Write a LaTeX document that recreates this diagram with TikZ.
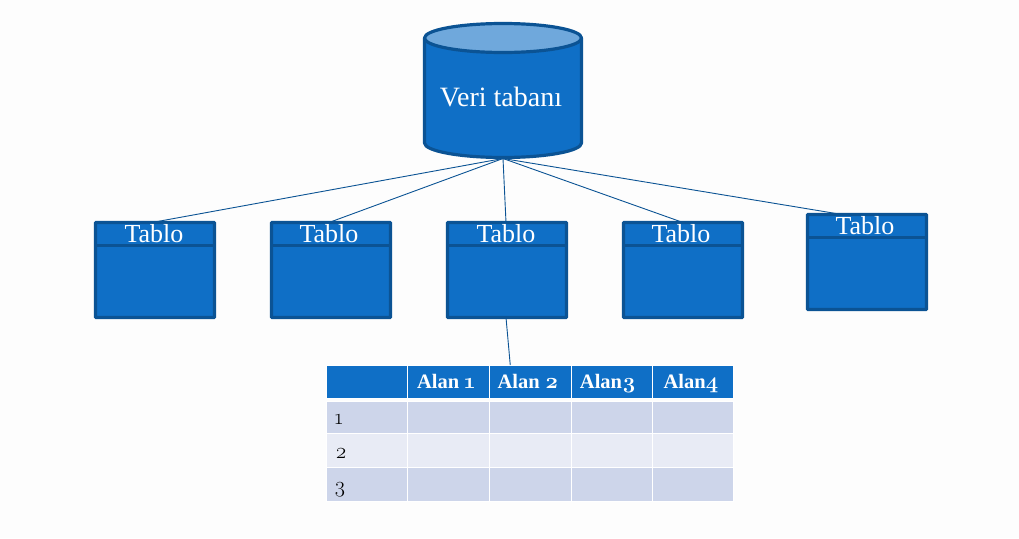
\documentclass[tikz,border=0pt]{standalone}
\usepackage{fontspec}
\setmainfont{Liberation Serif}
\newfontfamily\lmold[Numbers=OldStyle]{Latin Modern Roman}
\usetikzlibrary{calc}
\definecolor{blu}{HTML}{0F6FC6}
\definecolor{edge}{HTML}{0B5394}
\definecolor{topc}{HTML}{6FA8DC}
\definecolor{band}{HTML}{CDD5EA}
\definecolor{bandl}{HTML}{E8EBF5}
\definecolor{pagebg}{HTML}{FDFDFD}
\tikzset{
  tablebox/.style={draw=edge,line width=3.2pt,fill=blu,rounded corners=0.6pt,minimum width=119pt,minimum height=95pt,inner sep=0pt,outer sep=0pt,anchor=north west},
  cylline/.style={draw=edge,line width=3.2pt,line join=round},
  boxtitle/.style={text=white,font=\fontsize{26}{26}\selectfont,inner sep=0pt,anchor=base},
  link/.style={draw=edge,line width=0.9pt},
  cell/.style={draw=white,line width=1pt,inner sep=0pt,outer sep=0pt,anchor=north west},
  headcell/.style={cell,fill=blu,text=white},
  headtext/.style={text=white,font=\fontsize{20.5}{20.5}\bfseries\selectfont,inner sep=0pt,anchor=base},
  rowtext/.style={text=black,font=\fontsize{22}{22}\lmold\selectfont,inner sep=0pt,anchor=base}
}
\newcommand{\oldn}[1]{{\fontsize{22}{22}\lmold\bfseries #1}}
\begin{document}
\begin{tikzpicture}[x=1pt,y=-1pt]
\useasboundingbox (0,0) rectangle (1019,538);
\fill[pagebg] (0,0) rectangle (1019,538);
% cylinder
\node[minimum width=160pt,minimum height=136pt,inner sep=0pt,outer sep=0pt] (db) at (503,90.5) {};
\path[cylline,fill=blu] (424.5,38) -- (424.5,143)
  .. controls (424.5,151) and (459.64,157.5) .. (503,157.5)
  .. controls (546.36,157.5) and (581.5,151) .. (581.5,143)
  -- (581.5,38) -- cycle;
\path[cylline,fill=topc] (503,38) ellipse [x radius=78.5pt,y radius=14.5pt];
\node[text=white,font=\fontsize{28}{28}\selectfont,inner sep=0pt,anchor=base] (dbt) at (501,106) {Veri tabanı};
% boxes
\node[tablebox] (b1) at (95.5,222.5) {};
\node[tablebox] (b2) at (271.5,222.5) {};
\node[tablebox] (b3) at (447.5,222.5) {};
\node[tablebox] (b4) at (623.5,222.5) {};
\node[tablebox] (b5) at (807.5,214.5) {};
\foreach \n in {1,...,5}{
  \draw[draw=edge,line width=3.2pt] ($(b\n.north west)+(0,23)$) -- ($(b\n.north east)+(0,23)$);
}
\node[boxtitle] (t1) at (154,242) {Tablo};
\node[boxtitle] (t2) at (329,242) {Tablo};
\node[boxtitle] (t3) at (506,242) {Tablo};
\node[boxtitle] (t4) at (681,242) {Tablo};
\node[boxtitle] (t5) at (865,234) {Tablo};
% connectors
\draw[link] (db.south) -- ([xshift=-3pt]b1.north);
\draw[link] (db.south) -- ([xshift=-2pt]b2.north);
\draw[link] (db.south) -- ([xshift=-1pt]b3.north);
\draw[link] (db.south) -- ([xshift=0pt]b4.north);
\draw[link] (db.south) -- ([xshift=-25pt]b5.north);
% table
\def\xa{326}\def\xb{407.5}\def\xc{489.5}\def\xd{571}\def\xe{652.5}\def\xf{733.5}
\foreach \nm/\xl/\xr in {c0/\xa/\xb,c1/\xb/\xc,c2/\xc/\xd,c3/\xd/\xe,c4/\xe/\xf}{
  \node[headcell,minimum width={\xr-\xl},minimum height=33pt] (h\nm) at (\xl,365) {};
  \node[cell,fill=band,minimum width={\xr-\xl},minimum height=32.5pt] (ra\nm) at (\xl,401) {};
  \node[cell,fill=bandl,minimum width={\xr-\xl},minimum height=34pt] (rb\nm) at (\xl,433.5) {};
  \node[cell,fill=band,minimum width={\xr-\xl},minimum height=34pt] (rc\nm) at (\xl,467.5) {};
}
\node[headtext] (a1) at (446,388.5) {Alan \oldn{1}};
\node[headtext] (a2) at (528,388.5) {Alan \oldn{2}};
\node[headtext] (a3) at (608,388.5) {Alan\oldn{3}};
\node[headtext] (a4) at (691,388.5) {Alan\oldn{4}};
\node[rowtext] (n1) at (339,424) {1};
\node[rowtext] (n2) at (341,458) {2};
\node[rowtext] (n3) at (340,492) {3};
\draw[link] ([xshift=-1pt]b3.south) -- ([xshift=-20pt]hc2.north);
\end{tikzpicture}
\end{document}
